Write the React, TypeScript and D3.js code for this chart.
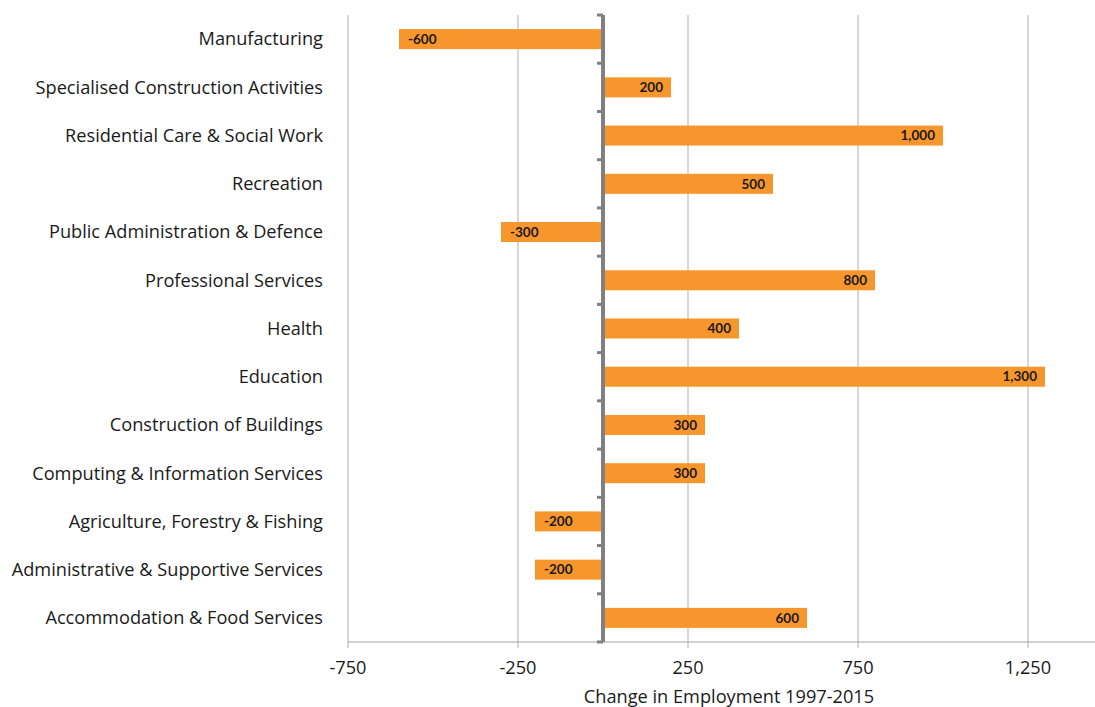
import React from "react";
import * as d3 from "d3";

const categories = [
  "Manufacturing",
  "Specialised Construction Activities",
  "Residential Care & Social Work",
  "Recreation",
  "Public Administration & Defence",
  "Professional Services",
  "Health",
  "Education",
  "Construction of Buildings",
  "Computing & Information Services",
  "Agriculture, Forestry & Fishing",
  "Administrative & Supportive Services",
  "Accommodation & Food Services",
];
const values = [-600, 200, 1000, 500, -300, 800, 400, 1300, 300, 300, -200, -200, 600];
const tickValues = [-750, -250, 250, 750, 1250];
const axisTitle = "Change in Employment 1997-2015";

const W = 1095;
const H = 707;
const FONT = "'Open Sans', Lato, sans-serif";
const LFONT = "Lato, 'Open Sans', sans-serif";

export default function App() {
  const left = 348;
  const top = 15;
  const bottom = 642;
  const x = d3.scaleLinear().domain([-750, 1400]).range([left, left + 2150 * 0.34]);
  const y = d3.scaleBand().domain(categories).range([top, bottom]).paddingInner(0.585).paddingOuter(0.2925);
  const x0 = x(0);
  const f = d3.format(",");
  const fmt = (v: number) => f(v).replace("\u2212", "-");
  const boundaries = d3.range(categories.length + 1).map((i) => top + i * ((bottom - top) / categories.length));

  return (
    <div style={{ position: "fixed", left: 0, top: 0 }}>
      <svg width={W} height={H} style={{ display: "block", background: "#fff" }}>
        {tickValues.map((t) => (
          <line key={t} x1={x(t)} x2={x(t)} y1={top} y2={bottom + 6} stroke="#bdbdbd" strokeWidth={1.2} />
        ))}
        <line x1={left} x2={W} y1={bottom} y2={bottom} stroke="#a6a6a6" strokeWidth={1.2} />
        {categories.map((c, i) => {
          const v = values[i];
          const xa = v >= 0 ? x0 + 2 : x(v);
          const xb = v >= 0 ? x(v) : x0 - 2;
          return <rect key={c} x={xa} y={y(c)!} width={xb - xa} height={y.bandwidth()} fill="#F7962D" />;
        })}
        {categories.map((c, i) => {
          const v = values[i];
          const yc = y(c)! + y.bandwidth() / 2;
          return (
            <text
              key={c}
              x={v >= 0 ? x(v) - 8 : x(v) + 9}
              y={yc}
              dy="0.35em"
              textAnchor={v >= 0 ? "end" : "start"}
              fontFamily={LFONT}
              fontWeight="bold"
              fontSize={13.5}
              fill="#1a1a1a"
            >
              {fmt(v)}
            </text>
          );
        })}
        <line x1={x0} x2={x0} y1={top} y2={bottom} stroke="#808080" strokeWidth={4} />
        {boundaries.map((b, i) => (
          <line key={i} x1={x0 - 6} x2={x0} y1={b} y2={b} stroke="#808080" strokeWidth={3} />
        ))}
        {categories.map((c) => (
          <text
            key={c}
            x={323}
            y={y(c)! + y.bandwidth() / 2}
            dy="0.35em"
            textAnchor="end"
            fontFamily={FONT}
            fontSize={18.2}
            fill="#1a1a1a"
          >
            {c}
          </text>
        ))}
        {tickValues.map((t) => (
          <text key={t} x={x(t)} y={674} textAnchor="middle" fontFamily={FONT} fontSize={18.2} fill="#1a1a1a">
            {fmt(t)}
          </text>
        ))}
        <text x={729} y={703} textAnchor="middle" fontFamily={FONT} fontSize={18.2} fill="#1a1a1a">
          {axisTitle}
        </text>
      </svg>
    </div>
  );
}
